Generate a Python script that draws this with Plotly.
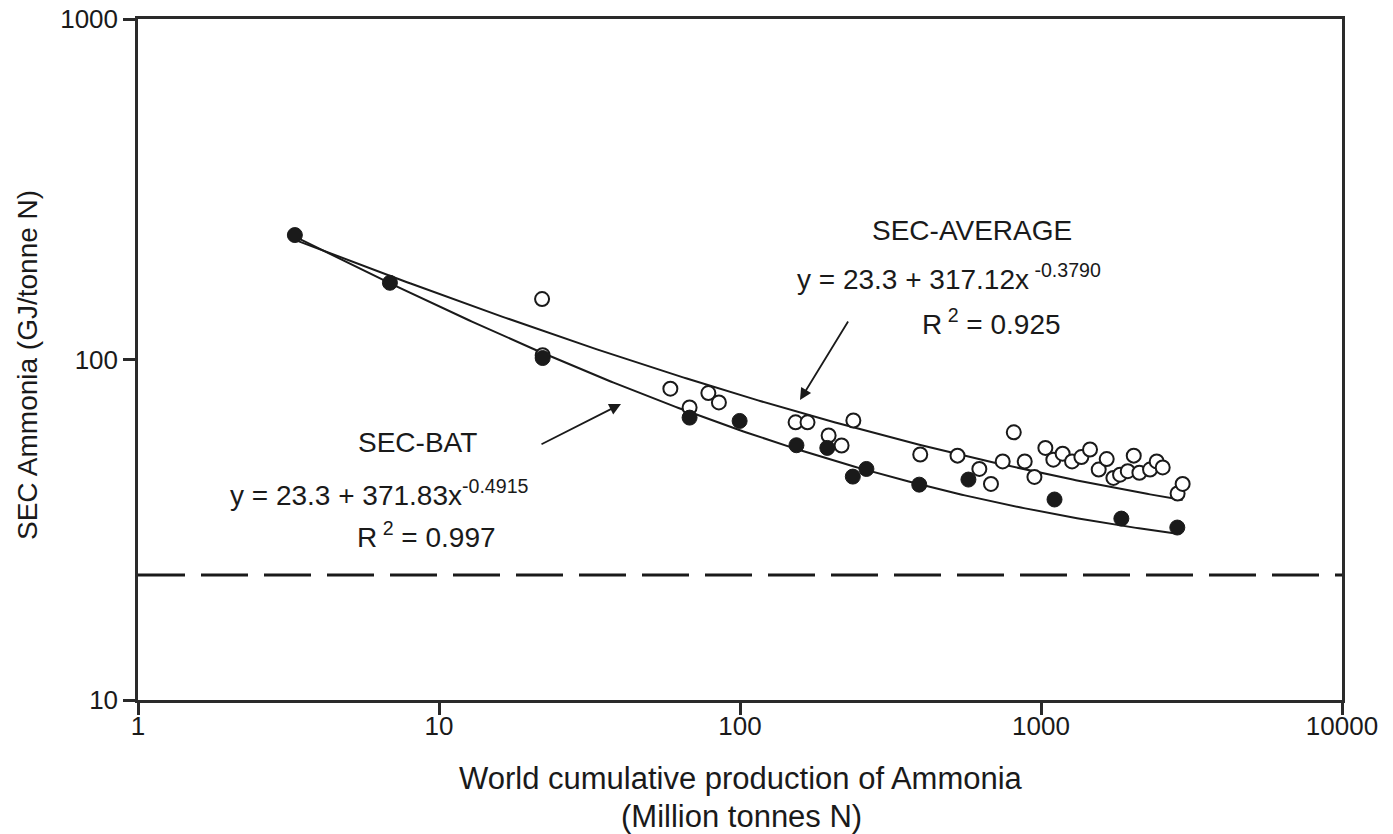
import numpy as np
import plotly.graph_objects as go

# ---------------- data ----------------
bat_x = [3.32, 6.87, 22.1, 68, 99.7, 154, 195, 237, 263, 394, 574, 1109, 1849, 2837]
bat_y = [232, 168, 101, 67.5, 66, 56, 55, 45.3, 47.7, 42.9, 44.4, 38.8, 34.1, 32.1]

avg_x = [22.0, 22.1, 58.7, 68, 78.5, 85.1, 153, 167.6, 197, 217.5, 238, 397, 528, 624,
         682, 746, 812, 883, 951, 1034, 1099, 1180, 1268, 1362, 1455, 1555, 1653,
         1740, 1831, 1942, 2033, 2123, 2303, 2423, 2537, 2843, 2955]
avg_y = [150.5, 103, 82.1, 72.3, 79.7, 74.8, 65.4, 65.4, 59.8, 55.9, 66.2, 52.6, 52.2, 47.7,
         43.1, 50.2, 61.1, 50.2, 45.2, 55.0, 50.8, 52.9, 50.2, 51.7, 54.4, 47.5, 51.0,
         44.9, 45.9, 47.0, 52.2, 46.5, 47.5, 50.2, 48.2, 40.4, 43.1]

# fitted curves y = a + b * x^c (coefficients printed on the chart)
asymptote = 23.3
avg_b, avg_c = 317.12, -0.3790
bat_b, bat_c = 371.83, -0.4915
avg_curve_range = (3.32, 2955)
bat_curve_range = (3.32, 2837)

x_tickvals = [1, 10, 100, 1000, 10000]
x_ticktext = ["1", "10", "100", "1000", "10000"]
y_tickvals = [10, 100, 1000]
y_ticktext = ["10", "100", "1000"]

# ---------------- figure ----------------
INK = "#1a1a1a"
FONT = "Liberation Sans, Arial, Helvetica, sans-serif"

fig = go.Figure()

xa = np.geomspace(*avg_curve_range, 300)
fig.add_trace(go.Scatter(x=xa, y=asymptote + avg_b * xa ** avg_c, mode="lines",
                         line=dict(color=INK, width=2), hoverinfo="skip"))
xb = np.geomspace(*bat_curve_range, 300)
fig.add_trace(go.Scatter(x=xb, y=asymptote + bat_b * xb ** bat_c, mode="lines",
                         line=dict(color=INK, width=2), hoverinfo="skip"))

fig.add_trace(go.Scatter(x=avg_x, y=avg_y, mode="markers",
                         marker=dict(symbol="circle", size=14, color="white",
                                     line=dict(color=INK, width=2))))
fig.add_trace(go.Scatter(x=bat_x, y=bat_y, mode="markers",
                         marker=dict(symbol="circle", size=15, color=INK,
                                     line=dict(color=INK, width=1))))

# dashed asymptote line
fig.add_shape(type="line", xref="paper", yref="y", x0=0, x1=1, y0=asymptote, y1=asymptote,
              line=dict(color=INK, width=3, dash="47px,16px"))

W, H = 1393, 834
L, R, T, B = 138, 51, 19, 134
pw, ph = W - L - R, H - T - B


def px(xp):
    return (xp - L) / pw


def py(yp):
    return (H - B - yp) / ph


ann_font = dict(family=FONT, size=28, color=INK)
annotations = [
    dict(text="SEC-AVERAGE", x=px(972), y=py(231), xanchor="center", yanchor="middle"),
    dict(text="y = 23.3 + 317.12x<sup> -0.3790</sup>", x=px(795), y=py(277),
         xanchor="left", yanchor="middle"),
    dict(text="R<sup> 2</sup> = 0.925", x=px(920), y=py(322), xanchor="left", yanchor="middle"),
    dict(text="SEC-BAT", x=px(417), y=py(443), xanchor="center", yanchor="middle"),
    dict(text="y = 23.3 + 371.83x<sup>-0.4915</sup>", x=px(228), y=py(493),
         xanchor="left", yanchor="middle"),
    dict(text="R<sup> 2</sup> = 0.997", x=px(355), y=py(535), xanchor="left", yanchor="middle"),
]
for a in annotations:
    fig.add_annotation(xref="paper", yref="paper", showarrow=False, font=ann_font, **a)

# arrows (head position in paper coords, tail as pixel offset)
for head, tail in [((800, 400), (849, 320)), ((621, 404), (540, 445))]:
    fig.add_annotation(xref="paper", yref="paper", x=px(head[0]), y=py(head[1]),
                       ax=tail[0] - head[0], ay=tail[1] - head[1], text="",
                       showarrow=True, arrowhead=2, arrowsize=1.3, arrowwidth=1.8,
                       arrowcolor=INK)

# axis titles
title_font = dict(family=FONT, size=31, color=INK)
fig.add_annotation(xref="paper", yref="paper", x=px(741), y=py(778), showarrow=False,
                   text="World cumulative production of Ammonia", font=title_font,
                   xanchor="center", yanchor="middle")
fig.add_annotation(xref="paper", yref="paper", x=px(741), y=py(816), showarrow=False,
                   text="(Million tonnes N)", font=title_font,
                   xanchor="center", yanchor="middle")
fig.add_annotation(xref="paper", yref="paper", x=px(28), y=py(365), showarrow=False,
                   text="SEC Ammonia (GJ/tonne N)", textangle=-90,
                   font=dict(family=FONT, size=28, color=INK),
                   xanchor="center", yanchor="middle")

axis_common = dict(showline=True, linecolor="#2a2a2a", linewidth=2.5, mirror=True,
                   ticks="outside", ticklen=12, tickwidth=2.5, tickcolor="#2a2a2a",
                   showgrid=False, zeroline=False, automargin=False,
                   tickfont=dict(family=FONT, size=26, color=INK))

fig.update_xaxes(type="log", range=[0, 4], tickvals=x_tickvals, ticktext=x_ticktext,
                 ticklabelstandoff=-11, **axis_common)
fig.update_yaxes(type="log", range=[1, 3], tickvals=y_tickvals, ticktext=y_ticktext,
                 ticklabelstandoff=0, **axis_common)

fig.update_layout(width=W, height=H, margin=dict(l=L, r=R, t=T, b=B, autoexpand=False),
                  plot_bgcolor="white", paper_bgcolor="white", showlegend=False,
                  font=dict(family=FONT, color=INK))

fig.write_html("out.html")
